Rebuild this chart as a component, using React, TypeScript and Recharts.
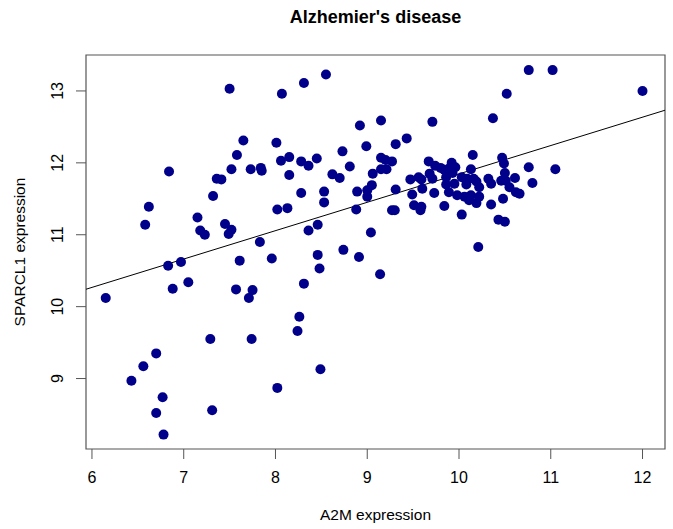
import { ScatterChart, Scatter, XAxis, YAxis, ReferenceArea, ReferenceLine } from 'recharts';

// A2M expression (x) and SPARCL1 expression (y), one entry per sample
const a2m = [
  6.15, 6.43, 6.56, 6.58, 6.62, 6.70, 6.70, 6.77, 6.78, 6.83, 6.84, 6.88, 6.97, 7.05, 7.15, 7.18,
  7.23, 7.29, 7.31, 7.32, 7.36, 7.41, 7.45, 7.49, 7.50, 7.52, 7.52, 7.57, 7.58, 7.61, 7.65, 7.71,
  7.73, 7.74, 7.75, 7.83, 7.84, 7.85, 7.96, 8.01, 8.02, 8.02, 8.06, 8.07, 8.13, 8.15, 8.15, 8.24,
  8.26, 8.28, 8.28, 8.31, 8.31, 8.36, 8.36, 8.45, 8.46, 8.46, 8.48, 8.49, 8.53, 8.53, 8.55, 8.62,
  8.70, 8.73, 8.74, 8.81, 8.88, 8.89, 8.91, 8.92, 8.99, 9.00, 9.00, 9.04, 9.05, 9.06, 9.14, 9.15,
  9.15, 9.15, 9.20, 9.21, 9.27, 9.27, 9.30, 9.31, 9.31, 9.43, 9.47, 9.49, 9.51, 9.56, 9.59, 9.58,
  9.59, 9.60, 9.67, 9.68, 9.71, 9.71, 9.73, 9.74, 9.80, 9.84, 9.84, 9.86, 9.86, 9.89, 9.89, 9.92,
  9.93, 9.95, 9.96, 9.98, 10.03, 10.03, 10.06, 10.08, 10.09, 10.11, 10.13, 10.13, 10.15, 10.16,
  10.19, 10.19, 10.21, 10.22, 10.22, 10.32, 10.35, 10.35, 10.37, 10.43, 10.46, 10.47, 10.48,
  10.49, 10.50, 10.50, 10.51, 10.52, 10.55, 10.61, 10.62, 10.66, 10.76, 10.76, 10.80, 11.02,
  11.05, 12.00,
];
const sparcl1 = [
  10.12, 8.97, 9.17, 11.14, 11.39, 9.35, 8.52, 8.74, 8.22, 10.57, 11.88, 10.25, 10.62, 10.34, 11.24, 11.06,
  11.00, 9.55, 8.56, 11.54, 11.78, 11.77, 11.15, 11.01, 13.03, 11.07, 11.91, 10.24, 12.11, 10.64, 12.31, 10.12,
  11.91, 9.55, 10.23, 10.90, 11.93, 11.89, 10.67, 12.28, 11.35, 8.87, 12.03, 12.96, 11.37, 12.08, 11.83, 9.66,
  9.86, 12.02, 11.58, 13.11, 10.32, 11.96, 11.06, 12.06, 11.14, 10.72, 10.53, 9.13, 11.60, 11.45, 13.23, 11.84,
  11.79, 12.16, 10.79, 11.95, 11.35, 11.60, 10.69, 12.52, 12.23, 11.62, 11.53, 11.03, 11.69, 11.85, 10.45, 12.59,
  12.07, 11.91, 12.04, 11.91, 12.02, 11.34, 11.34, 12.26, 11.63, 12.34, 11.77, 11.56, 11.41, 11.80, 11.39, 11.34,
  11.77, 11.64, 12.02, 11.85, 12.57, 11.78, 11.58, 11.96, 11.93, 11.90, 11.40, 11.80, 11.70, 11.92, 11.59, 12.00,
  11.86, 11.71, 11.94, 11.55, 11.28, 11.80, 11.53, 11.70, 11.78, 11.48, 11.91, 11.55, 12.11, 11.78,
  11.74, 11.44, 10.83, 11.66, 11.53, 11.78, 11.71, 11.42, 12.62, 11.21, 11.75, 12.07, 11.50,
  11.99, 11.18, 11.86, 11.75, 12.96, 11.66, 11.79, 11.59, 11.57, 13.29, 11.94, 11.72, 13.29,
  11.91, 13.00,
];

const xTicks = [6, 7, 8, 9, 10, 11, 12];
const yTicks = [9, 10, 11, 12, 13];

// fitted line SPARCL1 ~ A2M
const fitIntercept = 7.9;
const fitSlope = 0.3946;

const xDomain = [5.935, 12.245];
const yDomain = [8.02, 13.5];

const FONT = '"Liberation Sans", Arial, Helvetica, sans-serif';
const DOT = '#00008B';

const data = a2m.map((x, i) => ({ x, y: sparcl1[i] }));

const YTick = (props: any) => {
  const { x, y, payload } = props;
  return (
    <text
      x={x}
      y={y}
      transform={`rotate(-90 ${x} ${y})`}
      textAnchor="middle"
      fontSize={16}
      fontFamily={FONT}
      fill="#000"
    >
      {payload.value}
    </text>
  );
};

const Dot = (props: any) => <circle cx={props.cx} cy={props.cy} r={5} fill={DOT} />;

export default function App() {
  return (
    <div style={{ position: 'absolute', left: 0, top: 0, width: 673, height: 529, background: '#fff', fontFamily: FONT }}>
      <div style={{ position: 'absolute', left: 86, width: 579, top: 8, textAlign: 'center', fontSize: 18, lineHeight: '18px', fontWeight: 'bold' }}>
        Alzhemier's disease
      </div>
      <div style={{ position: 'absolute', left: 86, width: 579, top: 507, textAlign: 'center', fontSize: 15.5, lineHeight: '16px' }}>
        A2M expression
      </div>
      <div
        style={{
          position: 'absolute',
          left: 20 - 100,
          top: 252 - 8,
          width: 200,
          height: 16,
          textAlign: 'center',
          fontSize: 15.5,
          lineHeight: '16px',
          transform: 'rotate(-90deg)',
        }}
      >
        SPARCL1 expression
      </div>
      <ScatterChart width={673} height={529} margin={{ top: 55, right: 8, bottom: 0, left: 0 }}>
        <XAxis
          type="number"
          dataKey="x"
          domain={xDomain}
          ticks={xTicks}
          allowDataOverflow
          axisLine={false}
          tickLine={{ stroke: '#555' }}
          tickSize={10}
          tickMargin={13}
          height={80}
          tick={{ fill: '#000', fontSize: 16, fontFamily: FONT }}
        />
        <YAxis
          type="number"
          dataKey="y"
          domain={yDomain}
          ticks={yTicks}
          allowDataOverflow
          axisLine={false}
          tickLine={{ stroke: '#555' }}
          tickSize={10}
          tickMargin={13}
          width={86}
          tick={<YTick />}
        />
        <ReferenceArea
          x1={xDomain[0]}
          x2={xDomain[1]}
          y1={yDomain[0]}
          y2={yDomain[1]}
          fill="none"
          stroke="#555"
          strokeWidth={1.2}
        />
        <Scatter data={data} shape={<Dot />} isAnimationActive={false} />
        <ReferenceLine
          segment={[
            { x: xDomain[0], y: fitIntercept + fitSlope * xDomain[0] },
            { x: xDomain[1], y: fitIntercept + fitSlope * xDomain[1] },
          ]}
          stroke="#000"
          strokeWidth={1}
        />
      </ScatterChart>
    </div>
  );
}
